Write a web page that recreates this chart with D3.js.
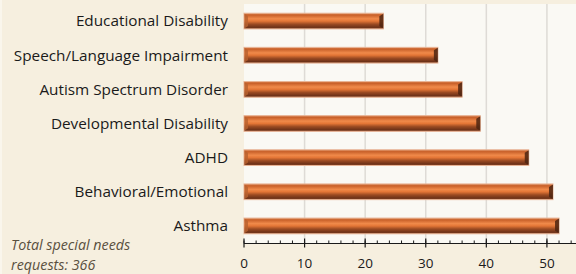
<!DOCTYPE html>
<html>
<head>
<meta charset="utf-8">
<script src="https://cdn.jsdelivr.net/npm/d3@7"></script>
<style>
  body { margin: 0; background: #f6efdf; }
  svg { display: block; font-family: "Open Sans", sans-serif; }
</style>
</head>
<body>
<div id="chart"></div>
<script>
const categories = ['Educational Disability', 'Speech/Language Impairment', 'Autism Spectrum Disorder',
    'Developmental Disability', 'ADHD', 'Behavioral/Emotional', 'Asthma'];
const values = [23, 32, 36, 39, 47, 51, 52];
const majorTicks = [0, 10, 20, 30, 40, 50];
const noteLines = ['Total special needs', 'requests: 366'];

// dimensions
var W = 576, H = 274;
var margin = {top: 4, right: 0, bottom: 31, left: 244};
var width = W - margin.left - margin.right,
    height = H - margin.top - margin.bottom;

var svg = d3.select('#chart').append('svg')
    .attr('width', W)
    .attr('height', H);

// left faint border
svg.append('rect').attr('x', 0).attr('y', 0).attr('width', 2).attr('height', H).attr('fill', '#faf6ec');

var defs = svg.append('defs');
var grad = defs.append('linearGradient').attr('id', 'barGrad')
    .attr('x1', 0).attr('y1', 0).attr('x2', 0).attr('y2', 1);
[[0, '#d9814e'], [0.12, '#c9612a'], [0.35, '#f08a4a'], [0.5, '#e47636'],
 [0.7, '#9a4a22'], [0.9, '#6e3218'], [1, '#8a4a2a']].forEach(function(s) {
    grad.append('stop').attr('offset', s[0]).attr('stop-color', s[1]);
});

var g = svg.append('g').attr('transform', 'translate(' + margin.left + ',' + margin.top + ')');

var x = d3.scaleLinear().domain([0, 55]).range([0, width * 55 / 54.8]);
var y = d3.scaleBand().domain(categories).range([0, height]).paddingInner(0.54).paddingOuter(0.27);

// plot area
g.append('rect').attr('width', width).attr('height', height).attr('fill', '#faf9f4');

// gridlines
g.selectAll('.grid').data(majorTicks.slice(1)).enter().append('line')
    .attr('x1', d => x(d)).attr('x2', d => x(d))
    .attr('y1', 0).attr('y2', height)
    .attr('stroke', '#dedbd6').attr('stroke-width', 1.5);

// bars
var bh = y.bandwidth();
var bars = g.selectAll('.bar').data(values).enter().append('g')
    .attr('transform', (d, i) => 'translate(0,' + y(categories[i]) + ')');

bars.append('rect')
    .attr('x', 0).attr('y', 0)
    .attr('width', d => x(d)).attr('height', bh)
    .attr('fill', 'url(#barGrad)')
    .attr('stroke', '#e8b496').attr('stroke-width', 1);

// right-end bevel
bars.append('path')
    .attr('d', d => {
        var e = x(d);
        return 'M' + (e - 4) + ',3L' + e + ',0.5L' + e + ',' + (bh - 0.5) + 'L' + (e - 4) + ',' + (bh - 3) + 'Z';
    })
    .attr('fill', '#4e2410').attr('opacity', 0.85);
// left-end bevel
bars.append('path')
    .attr('d', 'M0.5,0.5L4,3L4,' + (bh - 3) + 'L0.5,' + (bh - 0.5) + 'Z')
    .attr('fill', '#b8622f').attr('opacity', 0.8);

// category labels
g.selectAll('.lab').data(categories).enter().append('text')
    .attr('x', -16)
    .attr('y', d => y(d) + bh / 2)
    .attr('dy', '0.35em')
    .attr('text-anchor', 'end')
    .attr('font-size', 15.3)
    .attr('fill', '#1a1a1a')
    .text(d => d);

// x axis
var xAxis = g.append('g').attr('transform', 'translate(0,' + (height + 0.5) + ')');
xAxis.append('line').attr('x1', 0).attr('x2', width).attr('stroke', '#1a1a1a');
xAxis.selectAll('.minor').data(d3.range(0, 56, 2)).enter().append('line')
    .attr('x1', d => x(d)).attr('x2', d => x(d))
    .attr('y1', -3).attr('y2', 0)
    .attr('stroke', '#1a1a1a');
xAxis.selectAll('.major').data(majorTicks).enter().append('line')
    .attr('x1', d => x(d)).attr('x2', d => x(d))
    .attr('y1', -5).attr('y2', 4)
    .attr('stroke', '#1a1a1a').attr('stroke-width', 1.2);
xAxis.selectAll('.tl').data(majorTicks).enter().append('text')
    .attr('x', d => x(d))
    .attr('y', 24)
    .attr('text-anchor', 'middle')
    .attr('font-size', 13.5)
    .attr('fill', '#1a1a1a')
    .text(d => d);

// footnote
svg.selectAll('.note').data(noteLines).enter().append('text')
    .attr('x', 11)
    .attr('y', (d, i) => 250 + i * 19.5)
    .attr('font-size', 14.3)
    .attr('font-style', 'italic')
    .attr('fill', '#5a5040')
    .text(d => d);
</script>
</body>
</html>
